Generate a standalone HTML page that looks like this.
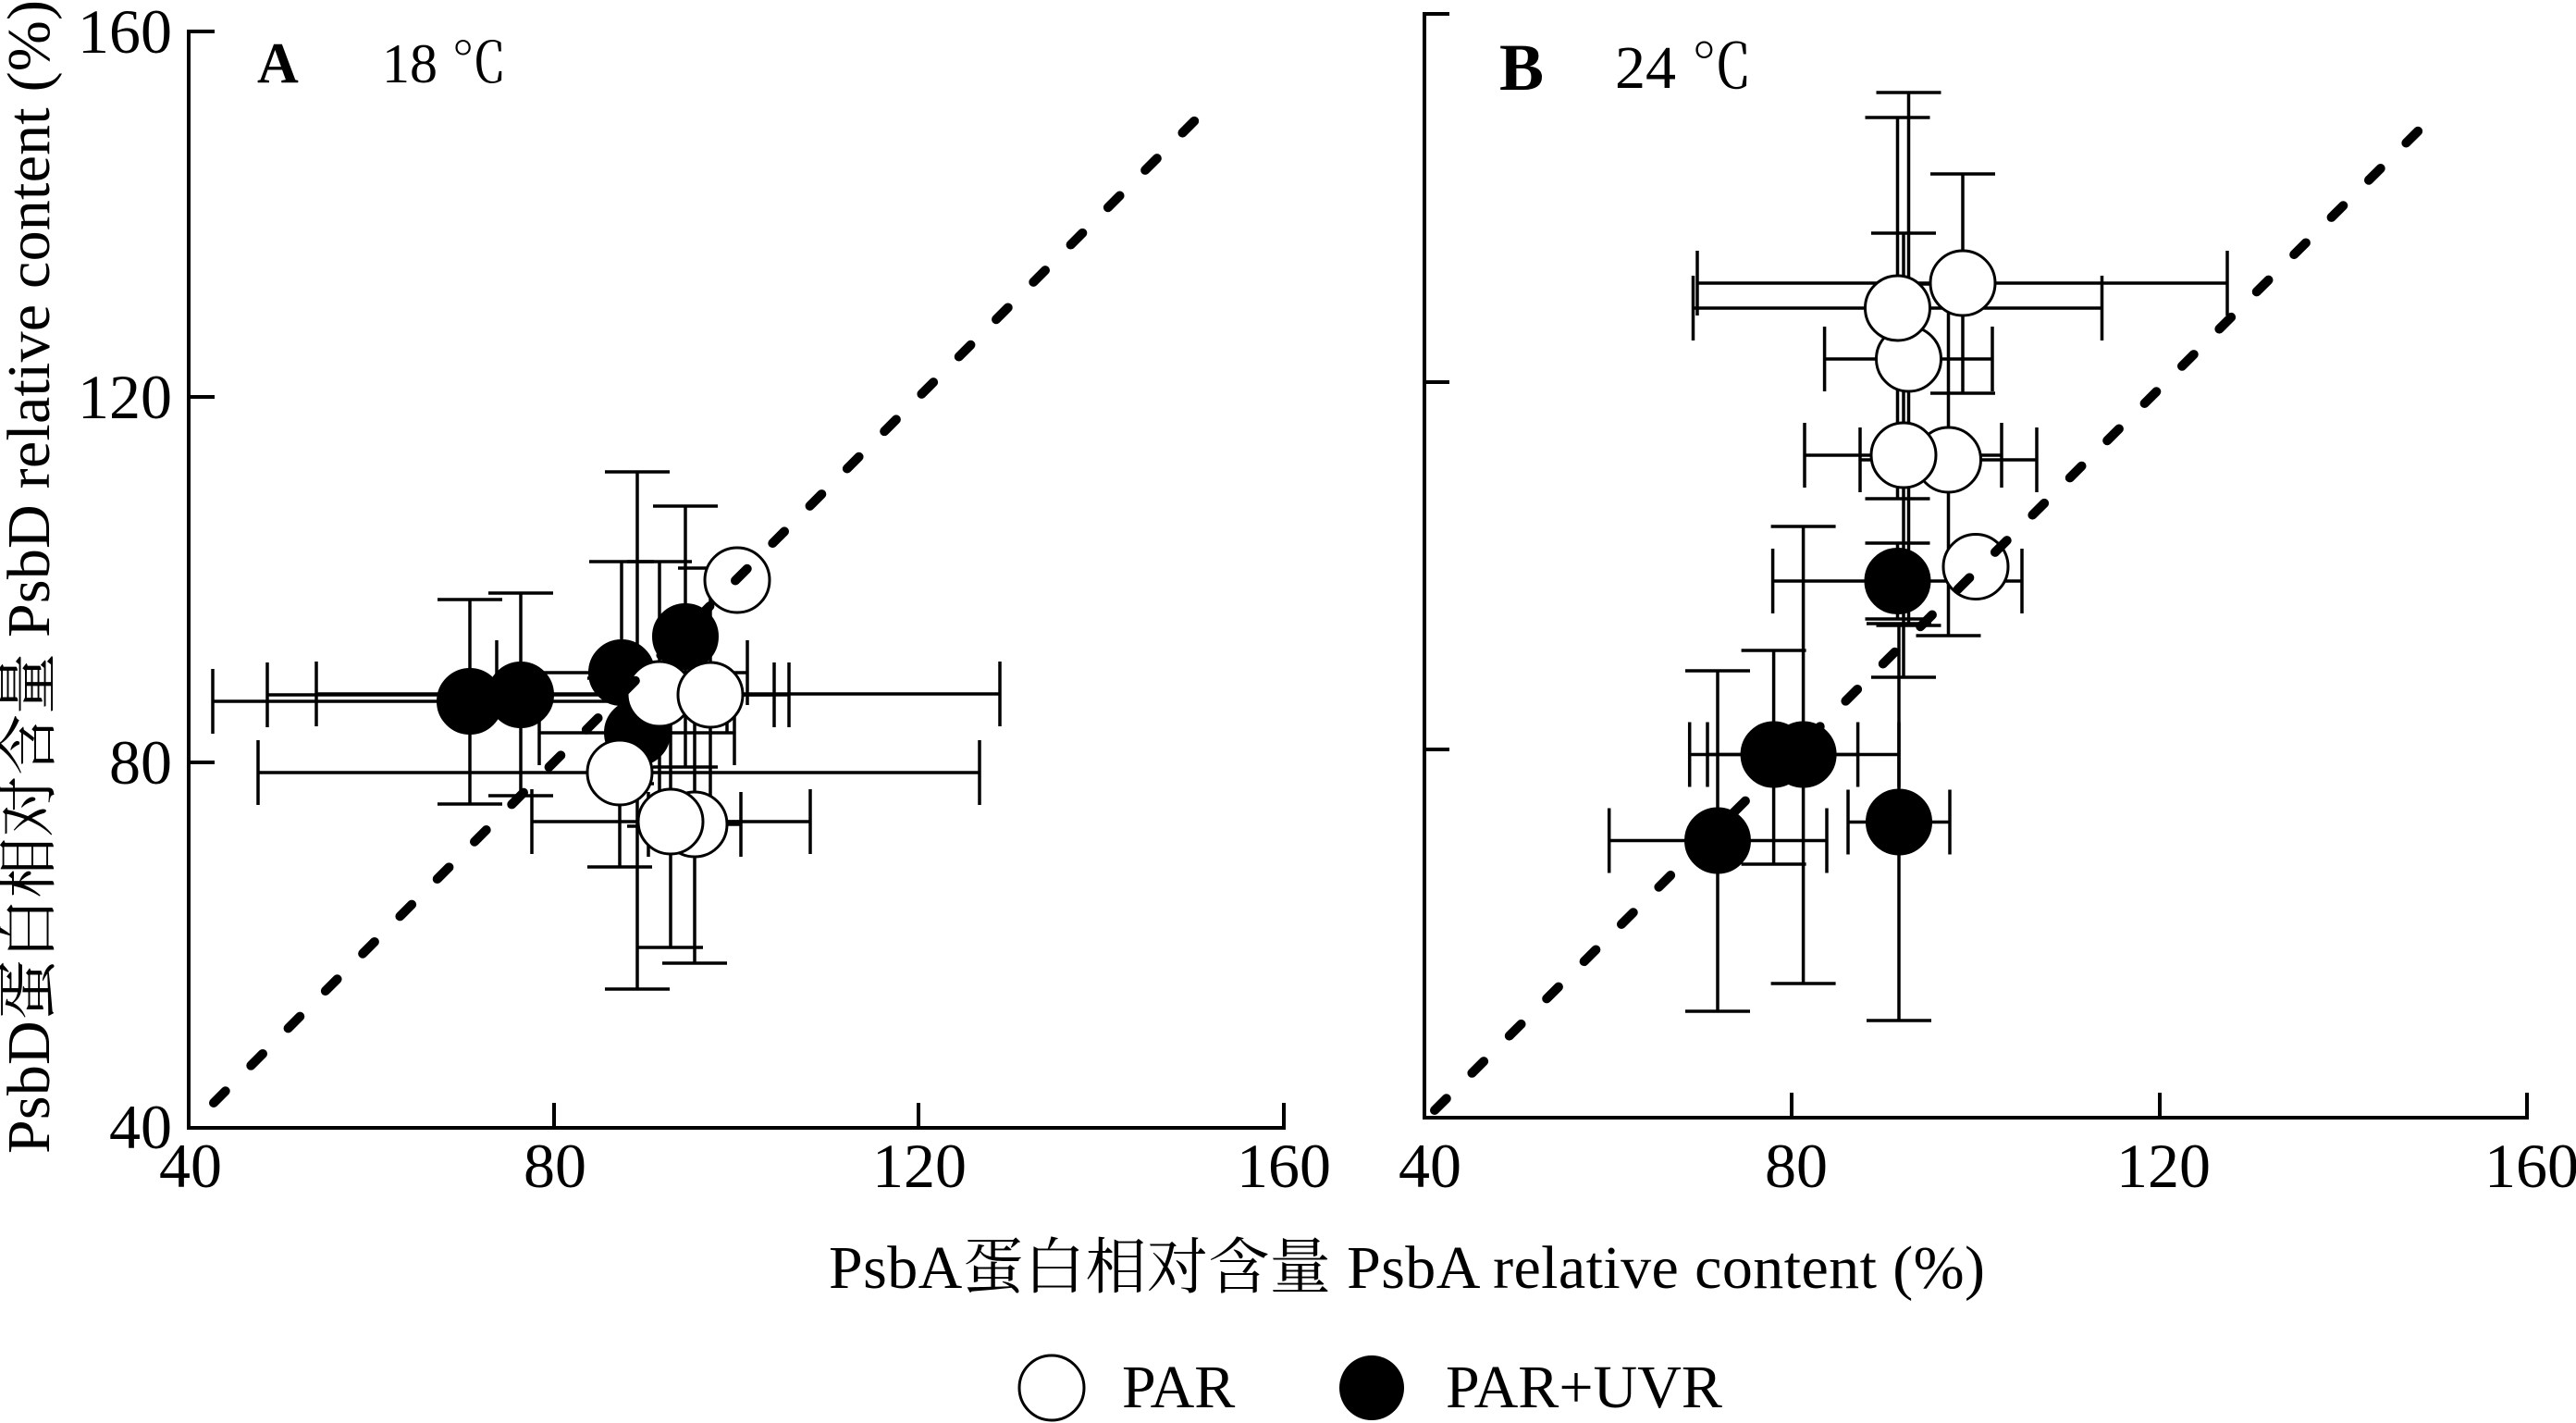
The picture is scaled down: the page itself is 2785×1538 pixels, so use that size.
<!DOCTYPE html>
<html>
<head>
<meta charset="utf-8">
<style>
  html, body { margin: 0; padding: 0; background: #ffffff; }
  svg { display: block; }
  text { font-family: "Liberation Serif", "Noto Serif CJK SC", serif; fill: #000; }
</style>
</head>
<body>
<svg width="2785" height="1538" viewBox="0 0 2785 1538" xmlns="http://www.w3.org/2000/svg">
  <rect x="0" y="0" width="2785" height="1538" fill="#ffffff"/>

  <!-- ================= PANEL A ================= -->
  <g stroke="#000" stroke-width="4" fill="none" stroke-linecap="square">
    <!-- axes -->
    <line x1="204" y1="34" x2="204" y2="1219"/>
    <line x1="204" y1="1219" x2="1388" y2="1219"/>
    <!-- y ticks -->
    <line x1="204" y1="34" x2="230" y2="34"/>
    <line x1="204" y1="429" x2="230" y2="429"/>
    <line x1="204" y1="824" x2="230" y2="824"/>
    <!-- x ticks -->
    <line x1="599" y1="1219" x2="599" y2="1194"/>
    <line x1="993" y1="1219" x2="993" y2="1194"/>
    <line x1="1388" y1="1219" x2="1388" y2="1194"/>
  </g>
  <g font-size="68" text-anchor="end">
    <text x="186" y="57">160</text>
    <text x="186" y="452">120</text>
    <text x="186" y="847">80</text>
    <text x="186" y="1241">40</text>
  </g>
  <g font-size="68" text-anchor="middle">
    <text x="206" y="1283">40</text>
    <text x="600" y="1283">80</text>
    <text x="994" y="1283">120</text>
    <text x="1388" y="1283">160</text>
  </g>
  <text x="278" y="89" font-size="62" font-weight="bold">A</text>
  <text x="413" y="89" font-size="60">18 ℃</text>

  <!-- error bars panel A -->
  <g stroke="#000" stroke-width="3.5" fill="none">
    <!-- F1 (508,758) -->
    <line x1="230" y1="758" x2="786" y2="758"/>
    <line x1="230" y1="723" x2="230" y2="793"/>
    <line x1="786" y1="723" x2="786" y2="793"/>
    <line x1="508" y1="648" x2="508" y2="869"/>
    <line x1="473" y1="648" x2="543" y2="648"/>
    <line x1="473" y1="869" x2="543" y2="869"/>
    <!-- F2 (563,751) -->
    <line x1="289" y1="751" x2="837" y2="751"/>
    <line x1="289" y1="716" x2="289" y2="786"/>
    <line x1="837" y1="716" x2="837" y2="786"/>
    <line x1="563" y1="641" x2="563" y2="860"/>
    <line x1="528" y1="641" x2="598" y2="641"/>
    <line x1="528" y1="860" x2="598" y2="860"/>
    <!-- F3 (672,727) -->
    <line x1="537" y1="727" x2="808" y2="727"/>
    <line x1="537" y1="692" x2="537" y2="762"/>
    <line x1="808" y1="692" x2="808" y2="762"/>
    <line x1="672" y1="607" x2="672" y2="847"/>
    <line x1="637" y1="607" x2="707" y2="607"/>
    <line x1="637" y1="847" x2="707" y2="847"/>
    <!-- F4 (741,688) -->
    <line x1="741" y1="547" x2="741" y2="829"/>
    <line x1="706" y1="547" x2="776" y2="547"/>
    <line x1="706" y1="829" x2="776" y2="829"/>
    <!-- F5 (689,792) -->
    <line x1="583" y1="792" x2="794" y2="792"/>
    <line x1="583" y1="757" x2="583" y2="827"/>
    <line x1="794" y1="757" x2="794" y2="827"/>
    <line x1="689" y1="510" x2="689" y2="1069"/>
    <line x1="654" y1="510" x2="724" y2="510"/>
    <line x1="654" y1="1069" x2="724" y2="1069"/>
    <!-- O2 (713,750) -->
    <line x1="342" y1="750" x2="1081" y2="750"/>
    <line x1="342" y1="715" x2="342" y2="785"/>
    <line x1="1081" y1="715" x2="1081" y2="785"/>
    <line x1="713" y1="607" x2="713" y2="893"/>
    <line x1="678" y1="607" x2="748" y2="607"/>
    <line x1="678" y1="893" x2="748" y2="893"/>
    <!-- O3 (768,751) -->
    <line x1="683" y1="751" x2="853" y2="751"/>
    <line x1="683" y1="716" x2="683" y2="786"/>
    <line x1="853" y1="716" x2="853" y2="786"/>
    <line x1="768" y1="614" x2="768" y2="888"/>
    <line x1="733" y1="614" x2="803" y2="614"/>
    <line x1="733" y1="888" x2="803" y2="888"/>
    <!-- O4 (670,835) -->
    <line x1="279" y1="835" x2="1059" y2="835"/>
    <line x1="279" y1="800" x2="279" y2="870"/>
    <line x1="1059" y1="800" x2="1059" y2="870"/>
    <line x1="670" y1="733" x2="670" y2="937"/>
    <line x1="635" y1="733" x2="705" y2="733"/>
    <line x1="635" y1="937" x2="705" y2="937"/>
    <!-- O5 (725,888) -->
    <line x1="575" y1="888" x2="876" y2="888"/>
    <line x1="575" y1="853" x2="575" y2="923"/>
    <line x1="876" y1="853" x2="876" y2="923"/>
    <line x1="725" y1="752" x2="725" y2="1024"/>
    <line x1="690" y1="752" x2="760" y2="752"/>
    <line x1="690" y1="1024" x2="760" y2="1024"/>
    <!-- O6 (751,891) -->
    <line x1="701" y1="891" x2="801" y2="891"/>
    <line x1="701" y1="856" x2="701" y2="926"/>
    <line x1="801" y1="856" x2="801" y2="926"/>
    <line x1="751" y1="741" x2="751" y2="1041"/>
    <line x1="716" y1="741" x2="786" y2="741"/>
    <line x1="716" y1="1041" x2="786" y2="1041"/>
  </g>
  <!-- filled markers A -->
  <g fill="#000" stroke="#000" stroke-width="2">
    <circle cx="508" cy="758" r="35"/>
    <circle cx="563" cy="751" r="35"/>
    <circle cx="741" cy="688" r="35"/>
    <circle cx="672" cy="727" r="35"/>
    <circle cx="689" cy="792" r="35"/>
  </g>
  <!-- open markers A -->
  <g fill="#fff" stroke="#000" stroke-width="3">
    <circle cx="797" cy="627" r="35"/>
    <circle cx="670" cy="835" r="35"/>
    <circle cx="713" cy="750" r="35"/>
    <circle cx="768" cy="751" r="35"/>
    <circle cx="751" cy="891" r="35"/>
    <circle cx="725" cy="888" r="35"/>
  </g>
  <!-- dashed 1:1 line A -->
  <line x1="231" y1="1192" x2="1297" y2="125" stroke="#000" stroke-width="10" stroke-linecap="round" stroke-dasharray="18 39"/>

  <!-- ================= PANEL B ================= -->
  <g stroke="#000" stroke-width="4" fill="none" stroke-linecap="square">
    <line x1="1540" y1="15" x2="1540" y2="1208"/>
    <line x1="1540" y1="1208" x2="2732" y2="1208"/>
    <line x1="1540" y1="15" x2="1565" y2="15"/>
    <line x1="1540" y1="413" x2="1565" y2="413"/>
    <line x1="1540" y1="810" x2="1565" y2="810"/>
    <line x1="1937" y1="1208" x2="1937" y2="1183"/>
    <line x1="2335" y1="1208" x2="2335" y2="1183"/>
    <line x1="2732" y1="1208" x2="2732" y2="1183"/>
  </g>
  <g font-size="68" text-anchor="middle">
    <text x="1546" y="1283">40</text>
    <text x="1942" y="1283">80</text>
    <text x="2339" y="1283">120</text>
    <text x="2737" y="1283">160</text>
  </g>
  <text x="1621" y="97" font-size="72" font-weight="bold">B</text>
  <text x="1746" y="95" font-size="66">24 ℃</text>

  <!-- error bars panel B -->
  <g stroke="#000" stroke-width="3.5" fill="none">
    <!-- P1 (2122,306) -->
    <line x1="1835" y1="306" x2="2408" y2="306"/>
    <line x1="1835" y1="271" x2="1835" y2="341"/>
    <line x1="2408" y1="271" x2="2408" y2="341"/>
    <line x1="2122" y1="188" x2="2122" y2="425"/>
    <line x1="2087" y1="188" x2="2157" y2="188"/>
    <line x1="2087" y1="425" x2="2157" y2="425"/>
    <!-- P2 (2051.5,333) -->
    <line x1="1830.5" y1="333" x2="2272.5" y2="333"/>
    <line x1="1830.5" y1="298" x2="1830.5" y2="368"/>
    <line x1="2272.5" y1="298" x2="2272.5" y2="368"/>
    <line x1="2051.5" y1="127" x2="2051.5" y2="539"/>
    <line x1="2016.5" y1="127" x2="2086.5" y2="127"/>
    <line x1="2016.5" y1="539" x2="2086.5" y2="539"/>
    <!-- P3 (2063.5,388) -->
    <line x1="1972.6" y1="388" x2="2154" y2="388"/>
    <line x1="1972.6" y1="353" x2="1972.6" y2="423"/>
    <line x1="2154" y1="353" x2="2154" y2="423"/>
    <line x1="2063.5" y1="100" x2="2063.5" y2="676"/>
    <line x1="2028.5" y1="100" x2="2098.5" y2="100"/>
    <line x1="2028.5" y1="676" x2="2098.5" y2="676"/>
    <!-- P4 (2058,492) -->
    <line x1="1951" y1="492" x2="2164" y2="492"/>
    <line x1="1951" y1="457" x2="1951" y2="527"/>
    <line x1="2164" y1="457" x2="2164" y2="527"/>
    <line x1="2058" y1="252" x2="2058" y2="732"/>
    <line x1="2023" y1="252" x2="2093" y2="252"/>
    <line x1="2023" y1="732" x2="2093" y2="732"/>
    <!-- P5 (2106.5,497) -->
    <line x1="2011" y1="497" x2="2202" y2="497"/>
    <line x1="2011" y1="462" x2="2011" y2="532"/>
    <line x1="2202" y1="462" x2="2202" y2="532"/>
    <line x1="2106.5" y1="307" x2="2106.5" y2="687"/>
    <line x1="2071.5" y1="307" x2="2141.5" y2="307"/>
    <line x1="2071.5" y1="687" x2="2141.5" y2="687"/>
    <!-- Q1 (2051.5,628) -->
    <line x1="1916.6" y1="628" x2="2186" y2="628"/>
    <line x1="1916.6" y1="593" x2="1916.6" y2="663"/>
    <line x1="2186" y1="593" x2="2186" y2="663"/>
    <line x1="2051.5" y1="587" x2="2051.5" y2="669"/>
    <line x1="2016.5" y1="587" x2="2086.5" y2="587"/>
    <line x1="2016.5" y1="669" x2="2086.5" y2="669"/>
    <!-- Q2 (1917.6,815.5) -->
    <line x1="1826.7" y1="815.5" x2="2008.6" y2="815.5"/>
    <line x1="1826.7" y1="780.5" x2="1826.7" y2="850.5"/>
    <line x1="2008.6" y1="780.5" x2="2008.6" y2="850.5"/>
    <line x1="1917.6" y1="703" x2="1917.6" y2="934"/>
    <line x1="1882.6" y1="703" x2="1952.6" y2="703"/>
    <line x1="1882.6" y1="934" x2="1952.6" y2="934"/>
    <!-- Q3 (1949.6,815.5) -->
    <line x1="1846" y1="815.5" x2="2053" y2="815.5"/>
    <line x1="1846" y1="780.5" x2="1846" y2="850.5"/>
    <line x1="2053" y1="780.5" x2="2053" y2="850.5"/>
    <line x1="1949.6" y1="569" x2="1949.6" y2="1063"/>
    <line x1="1914.6" y1="569" x2="1984.6" y2="569"/>
    <line x1="1914.6" y1="1063" x2="1984.6" y2="1063"/>
    <!-- Q4 (1857,908.5) -->
    <line x1="1739.7" y1="908.5" x2="1975" y2="908.5"/>
    <line x1="1739.7" y1="873.5" x2="1739.7" y2="943.5"/>
    <line x1="1975" y1="873.5" x2="1975" y2="943.5"/>
    <line x1="1857" y1="725" x2="1857" y2="1093"/>
    <line x1="1822" y1="725" x2="1892" y2="725"/>
    <line x1="1822" y1="1093" x2="1892" y2="1093"/>
    <!-- Q5 (2053,888.5) -->
    <line x1="1998" y1="888.5" x2="2108" y2="888.5"/>
    <line x1="1998" y1="853.5" x2="1998" y2="923.5"/>
    <line x1="2108" y1="853.5" x2="2108" y2="923.5"/>
    <line x1="2053" y1="674" x2="2053" y2="1103"/>
    <line x1="2018" y1="674" x2="2088" y2="674"/>
    <line x1="2018" y1="1103" x2="2088" y2="1103"/>
  </g>
  <!-- filled markers B -->
  <g fill="#000" stroke="#000" stroke-width="2">
    <circle cx="2051.5" cy="628" r="35"/>
    <circle cx="1917.6" cy="815.5" r="35"/>
    <circle cx="1949.6" cy="815.5" r="35"/>
    <circle cx="1857" cy="908.5" r="35"/>
    <circle cx="2053" cy="888.5" r="35"/>
  </g>
  <!-- open markers B -->
  <g fill="#fff" stroke="#000" stroke-width="3">
    <circle cx="2136" cy="612.5" r="35"/>
    <circle cx="2106.5" cy="497" r="35"/>
    <circle cx="2058" cy="492" r="35"/>
    <circle cx="2063.5" cy="388" r="35"/>
    <circle cx="2122" cy="306" r="35"/>
    <circle cx="2051.5" cy="333" r="35"/>
  </g>
  <!-- dashed 1:1 line B -->
  <line x1="1551" y1="1200" x2="2628" y2="128" stroke="#000" stroke-width="10" stroke-linecap="round" stroke-dasharray="18 39"/>

  <!-- ================= AXIS TITLES ================= -->
  <text x="896" y="1392" font-size="66" textLength="1250" lengthAdjust="spacing">PsbA蛋白相对含量 PsbA relative content (%)</text>
  <text transform="translate(53,1247) rotate(-90)" font-size="66" textLength="1247" lengthAdjust="spacing">PsbD蛋白相对含量 PsbD relative content (%)</text>

  <!-- ================= LEGEND ================= -->
  <circle cx="1137" cy="1500" r="35" fill="#fff" stroke="#000" stroke-width="3"/>
  <text x="1213" y="1521" font-size="66">PAR</text>
  <circle cx="1483" cy="1500" r="35" fill="#000"/>
  <text x="1563" y="1521" font-size="66">PAR+UVR</text>
</svg>
</body>
</html>
